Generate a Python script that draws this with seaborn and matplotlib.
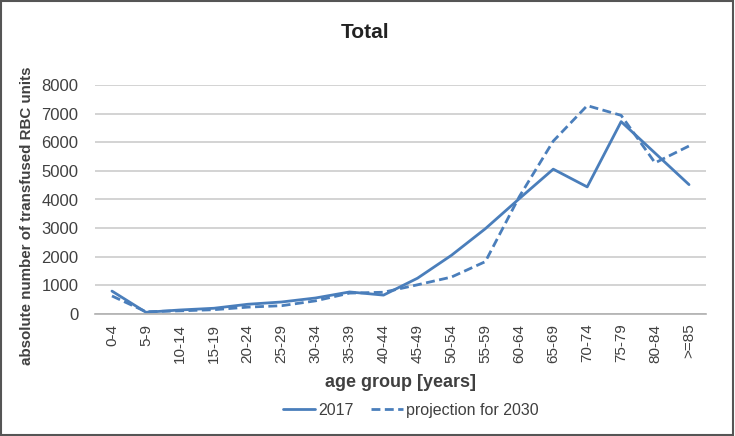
import matplotlib
matplotlib.use("Agg")
import matplotlib.pyplot as plt
import seaborn as sns
import pandas as pd
import numpy as np
from matplotlib.patches import Rectangle
from matplotlib.lines import Line2D

categories = ["0-4", "5-9", "10-14", "15-19", "20-24", "25-29", "30-34", "35-39",
              "40-44", "45-49", "50-54", "55-59", "60-64", "65-69", "70-74", "75-79",
              "80-84", ">=85"]
values_2017 = [800, 60, 140, 200, 340, 420, 560, 770, 660, 1250, 2050, 2980, 4030,
               5060, 4440, 6720, 5620, 4520]
values_2030 = [630, 80, 110, 150, 240, 290, 460, 730, 760, 1020, 1290, 1830, 4100,
               6040, 7280, 6940, 5280, 5870]
yticks = [0, 1000, 2000, 3000, 4000, 5000, 6000, 7000, 8000]

sns.set_style("white")
plt.rcParams['font.family'] = ['Liberation Sans Narrow', 'Liberation Sans', 'DejaVu Sans']

color = "#4a7ebb"
fig = plt.figure(figsize=(7.35, 4.36), dpi=100)
ax = fig.add_axes([95/735, 1-314/436, (706-95)/735, (314-85)/436])

idx = list(range(len(categories)))
df = pd.DataFrame({"pos": idx * 2,
                   "value": values_2017 + values_2030,
                   "series": ["2017"] * len(idx) + ["projection for 2030"] * len(idx)})
sns.lineplot(data=df[df.series == "2017"], x="pos", y="value", ax=ax, color=color,
             lw=2, legend=False)
sns.lineplot(data=df[df.series != "2017"], x="pos", y="value", ax=ax, color=color,
             lw=2, linestyle=(0, (3.2, 1.6)), legend=False)

ax.set_xlim(-0.5, len(categories) - 0.5)
ax.set_ylim(0, 8000)
ax.set_yticks(yticks)
ax.set_yticklabels([str(v) for v in yticks], fontsize=12, color="#404040")
ax.yaxis.grid(True, color="#cccccc", lw=1.2)
ax.set_axisbelow(True)
ax.set_xticks(idx)
ax.set_xticklabels(categories, rotation=90, fontsize=11, color="#404040")
ax.set_xticks(np.arange(-0.5, len(categories), 1), minor=True)
ax.tick_params(axis="x", which="major", length=0, pad=7)
ax.tick_params(axis="x", which="minor", length=5, color="#b0b0b0", width=1, direction="out")
ax.tick_params(axis="y", length=0, pad=12)
for s in ["top", "right", "left"]:
    ax.spines[s].set_visible(False)
ax.spines["bottom"].set_color("#b0b0b0")
ax.spines["bottom"].set_linewidth(1.2)

ax.set_xlabel("age group [years]", fontsize=13, fontweight="bold", color="#404040", labelpad=8)
ax.set_ylabel("absolute number of transfused RBC units", fontsize=10.9, fontweight="bold",
              color="#404040", family=["Liberation Sans", "DejaVu Sans"])
ax.yaxis.set_label_coords(-0.1, 0.43)
ax.set_title("Total", fontsize=15, fontweight="bold", color="#222222", pad=34,
             x=(365 - 95) / 611)

handles = [Line2D([0], [0], color=color, lw=2),
           Line2D([0], [0], color=color, lw=2, linestyle=(0, (3.2, 1.6)))]
fig.legend(handles, ["2017", "projection for 2030"], loc="center",
           bbox_to_anchor=(411/735, 1-410/436), ncol=2, frameon=False, fontsize=11.5,
           handlelength=2.0, handletextpad=0.2, columnspacing=1.1, labelcolor="#404040")

fig.patches.append(Rectangle((0.002, 0.003), 0.995, 0.994, transform=fig.transFigure,
                             fill=False, edgecolor="#555555", lw=1.5))
fig.savefig("out.png", dpi=100)
